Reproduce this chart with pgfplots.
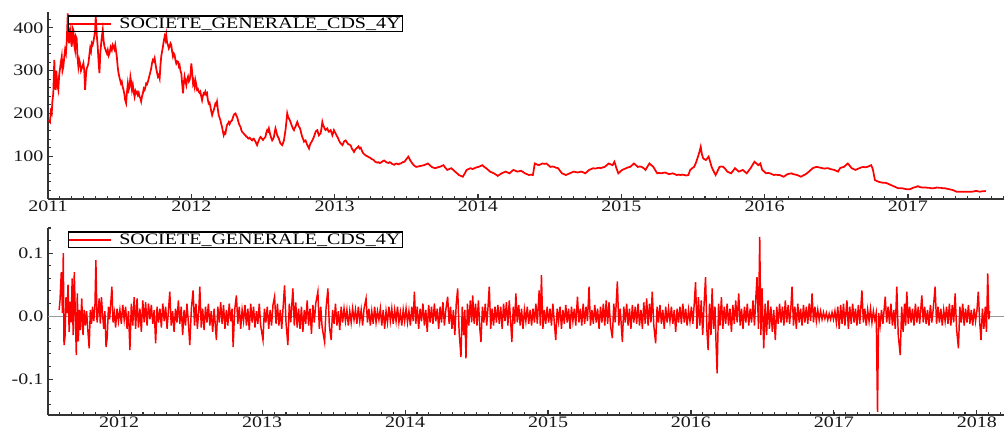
\documentclass[border=0pt]{standalone}
\usepackage{pgfplots}
\pgfplotsset{compat=1.18}
\usepackage{pgfplotstable}
\usepackage{fontspec}
\setmainfont{Liberation Serif}[FakeStretch=1.25]

% x = years since 2011
\pgfplotstableread{
x y
0.005 185
0.014 180
0.020 205
0.026 200
0.031 230
0.037 247
0.044 325
0.049 270
0.054 255
0.058 300
0.061 286
0.066 265
0.072 255
0.078 290
0.084 305
0.090 320
0.096 333
0.101 300
0.107 309
0.113 330
0.119 348
0.125 340
0.131 371
0.138 434
0.142 380
0.147 364
0.151 390
0.154 395
0.160 370
0.166 356
0.171 400
0.177 395
0.183 360
0.189 348
0.194 380
0.200 375
0.206 330
0.212 309
0.218 325
0.224 317
0.230 300
0.235 305
0.241 310
0.247 317
0.253 300
0.259 255
0.265 290
0.270 305
0.276 310
0.282 317
0.288 335
0.294 352
0.300 345
0.305 364
0.311 360
0.317 368
0.323 380
0.329 395
0.333 426
0.336 410
0.341 380
0.347 356
0.353 320
0.359 294
0.365 340
0.371 364
0.376 380
0.382 395
0.388 370
0.394 356
0.400 350
0.406 344
0.411 340
0.417 348
0.423 335
0.429 340
0.437 355
0.445 348
0.451 360
0.457 356
0.463 350
0.469 360
0.475 345
0.480 333
0.486 310
0.492 294
0.498 285
0.503 278
0.509 270
0.515 274
0.521 262
0.527 255
0.533 245
0.538 232
0.545 224
0.551 250
0.557 270
0.563 255
0.569 262
0.575 285
0.580 274
0.586 255
0.592 266
0.598 250
0.604 239
0.610 252
0.615 247
0.621 250
0.627 243
0.633 248
0.639 239
0.645 235
0.650 228
0.656 240
0.662 247
0.668 258
0.674 255
0.680 262
0.685 270
0.691 268
0.697 274
0.703 282
0.709 290
0.715 298
0.720 305
0.726 318
0.732 325
0.738 322
0.744 329
0.750 315
0.755 305
0.761 295
0.767 286
0.773 290
0.779 282
0.784 310
0.790 333
0.796 345
0.802 356
0.808 370
0.814 380
0.820 372
0.825 384
0.831 365
0.837 360
0.843 352
0.848 356
0.854 364
0.860 360
0.866 345
0.872 333
0.878 340
0.883 337
0.889 325
0.895 317
0.901 322
0.907 321
0.913 310
0.918 313
0.924 300
0.930 294
0.936 270
0.942 247
0.947 270
0.953 286
0.959 275
0.965 266
0.971 280
0.977 286
0.983 275
0.988 278
0.994 290
1.000 317
1.006 295
1.012 270
1.016 275
1.023 262
1.028 278
1.034 268
1.040 255
1.046 257
1.051 251
1.057 248
1.063 251
1.069 240
1.075 231
1.080 240
1.086 247
1.092 245
1.098 251
1.104 244
1.110 247
1.115 232
1.121 223
1.127 225
1.133 216
1.139 205
1.145 196
1.150 202
1.156 207
1.162 215
1.168 223
1.174 220
1.179 227
1.185 210
1.191 196
1.197 190
1.203 184
1.208 176
1.214 169
1.220 158
1.226 149
1.232 155
1.238 153
1.244 165
1.249 173
1.255 176
1.261 180
1.267 175
1.273 180
1.278 182
1.284 184
1.290 190
1.296 196
1.302 199
1.308 200
1.313 195
1.319 192
1.325 185
1.331 177
1.337 172
1.343 169
1.348 162
1.354 157
1.360 155
1.366 153
1.372 150
1.378 149
1.383 146
1.389 145
1.395 142
1.401 141
1.407 143
1.413 141
1.418 139
1.424 137
1.430 140
1.436 141
1.442 137
1.448 134
1.453 130
1.459 126
1.465 132
1.471 137
1.477 142
1.483 145
1.488 143
1.494 141
1.500 138
1.506 141
1.512 143
1.517 145
1.523 155
1.529 161
1.535 158
1.541 165
1.546 157
1.552 149
1.558 142
1.564 137
1.570 140
1.576 145
1.581 155
1.587 165
1.593 158
1.599 149
1.605 145
1.611 141
1.616 135
1.622 130
1.628 128
1.634 126
1.640 131
1.646 137
1.651 148
1.657 161
1.663 180
1.669 200
1.675 192
1.681 188
1.686 185
1.692 180
1.698 174
1.704 169
1.710 164
1.716 161
1.721 166
1.727 169
1.733 175
1.739 180
1.745 174
1.751 169
1.757 166
1.762 161
1.768 152
1.774 145
1.780 140
1.786 134
1.791 136
1.797 137
1.803 131
1.809 126
1.815 122
1.821 118
1.826 125
1.832 130
1.838 133
1.844 137
1.850 141
1.855 145
1.861 151
1.867 157
1.873 160
1.879 161
1.884 155
1.890 149
1.896 152
1.902 153
1.908 165
1.914 180
1.920 172
1.925 169
1.931 163
1.937 161
1.943 164
1.949 165
1.954 160
1.960 157
1.966 159
1.972 161
1.978 155
1.984 149
1.990 155
1.995 161
2.001 157
2.007 153
2.013 149
2.019 145
2.025 141
2.030 137
2.036 133
2.042 130
2.048 128
2.054 126
2.060 130
2.065 134
2.071 136
2.077 137
2.085 133
2.095 128
2.104 127
2.112 125
2.120 118
2.128 114
2.135 110
2.143 115
2.150 118
2.158 120
2.166 123
2.174 118
2.182 120
2.190 113
2.197 108
2.205 105
2.213 103
2.220 101
2.228 100
2.236 98
2.244 97
2.252 95
2.260 93
2.268 92
2.275 90
2.283 87
2.290 86
2.298 85
2.306 86
2.314 84
2.322 85
2.330 87
2.338 89
2.345 90
2.353 88
2.361 86
2.368 85
2.376 84
2.384 86
2.392 85
2.400 82
2.408 81
2.415 80
2.423 82
2.431 83
2.438 82
2.446 81
2.454 83
2.462 83
2.474 86
2.487 87
2.500 93
2.514 99
2.528 90
2.542 83
2.555 78
2.569 75
2.582 76
2.596 77
2.610 78
2.623 79
2.637 81
2.650 83
2.664 79
2.677 75
2.690 73
2.704 72
2.718 74
2.731 75
2.745 77
2.759 79
2.772 73
2.786 68
2.800 70
2.813 72
2.827 68
2.840 64
2.854 60
2.867 56
2.881 54
2.894 52
2.908 60
2.921 68
2.935 70
2.948 72
2.962 70
2.976 72
2.990 74
3.003 75
3.017 77
3.030 79
3.044 75
3.057 72
3.071 68
3.084 64
3.098 62
3.111 60
3.125 57
3.138 54
3.152 57
3.165 60
3.179 62
3.193 64
3.206 62
3.220 60
3.233 64
3.247 68
3.261 66
3.274 64
3.288 65
3.301 66
3.315 63
3.328 60
3.342 58
3.355 56
3.369 57
3.383 56
3.390 70
3.396 83
3.410 81
3.423 79
3.437 81
3.450 83
3.464 82
3.477 83
3.491 79
3.505 75
3.518 76
3.532 75
3.545 73
3.559 72
3.572 66
3.586 60
3.600 58
3.613 56
3.627 58
3.640 60
3.654 62
3.667 64
3.681 63
3.695 62
3.708 63
3.722 64
3.735 62
3.749 60
3.762 64
3.776 68
3.790 70
3.803 72
3.817 71
3.830 72
3.844 73
3.857 72
3.871 74
3.884 75
3.898 79
3.912 83
3.925 81
3.939 79
3.952 87
3.966 72
3.979 60
3.993 64
4.006 68
4.020 70
4.034 72
4.047 74
4.061 75
4.075 79
4.088 83
4.102 79
4.115 75
4.129 76
4.142 75
4.156 72
4.169 68
4.183 76
4.196 83
4.210 79
4.224 75
4.237 67
4.251 60
4.265 61
4.278 60
4.292 61
4.305 62
4.319 60
4.332 58
4.346 59
4.359 60
4.373 58
4.386 56
4.400 57
4.413 56
4.427 57
4.440 56
4.454 55
4.468 56
4.474 62
4.481 68
4.495 72
4.508 75
4.521 85
4.535 99
4.545 110
4.554 122
4.562 105
4.571 95
4.580 93
4.590 91
4.600 95
4.609 99
4.620 87
4.630 75
4.644 65
4.658 56
4.671 65
4.685 75
4.698 76
4.712 75
4.726 70
4.739 64
4.752 62
4.766 60
4.780 66
4.793 72
4.806 68
4.820 64
4.834 66
4.847 68
4.861 64
4.875 60
4.888 66
4.902 72
4.916 80
4.929 87
4.943 83
4.956 79
4.970 83
4.983 68
4.997 64
5.010 60
5.024 61
5.037 60
5.051 58
5.065 56
5.078 57
5.092 56
5.105 56
5.119 54
5.132 52
5.146 55
5.159 58
5.173 59
5.187 60
5.200 58
5.214 57
5.227 56
5.241 54
5.254 52
5.268 55
5.281 57
5.295 60
5.309 64
5.322 68
5.336 72
5.350 74
5.363 75
5.377 74
5.390 73
5.404 72
5.417 71
5.431 72
5.444 72
5.458 70
5.471 69
5.485 68
5.498 66
5.512 64
5.519 68
5.526 72
5.540 74
5.553 75
5.566 79
5.580 83
5.593 78
5.607 72
5.620 70
5.634 68
5.647 70
5.661 72
5.675 74
5.689 75
5.702 74
5.716 75
5.730 77
5.743 79
5.750 74
5.756 68
5.763 55
5.770 44
5.783 42
5.797 40
5.810 39
5.824 38
5.838 38
5.851 37
5.865 35
5.878 33
5.892 31
5.906 29
5.919 27
5.933 25
5.946 25
5.960 25
5.974 24
5.987 23
6.001 23
6.014 23
6.028 25
6.041 27
6.055 28
6.069 30
6.082 28
6.096 27
6.110 27
6.123 27
6.137 26
6.150 26
6.164 25
6.177 25
6.191 26
6.204 27
6.218 26
6.231 26
6.245 25
6.258 25
6.272 24
6.285 23
6.299 22
6.312 21
6.326 19
6.339 17
6.366 17
6.394 17
6.421 17
6.448 17
6.462 18
6.475 19
6.489 18
6.502 17
6.516 18
6.529 18
6.543 19
}\topdata

\pgfplotstableread{
x y
0.580 0.010
0.586 0.025
0.595 0.070
0.603 0.005
0.609 0.100
0.614 -0.046
0.621 -0.033
0.628 0.030
0.636 0.005
0.642 0.050
0.650 -0.025
0.657 0.023
0.664 -0.010
0.671 0.060
0.678 -0.030
0.686 0.070
0.700 -0.062
0.707 0.036
0.714 -0.040
0.722 0.010
0.729 -0.022
0.738 0.028
0.747 -0.030
0.755 0.010
0.763 -0.015
0.772 0.008
0.780 -0.020
0.790 -0.051
0.798 0.010
0.806 -0.012
0.814 0.015
0.822 -0.008
0.830 0.012
0.837 0.089
0.845 -0.010
0.852 0.005
0.860 0.028
0.868 -0.012
0.876 0.030
0.884 0.002
0.892 -0.020
0.900 0.008
0.908 -0.049
0.916 -0.035
0.925 0.015
0.933 -0.005
0.941 0.020
0.949 0.047
0.957 -0.010
0.966 0.005
0.975 -0.018
0.985 0.012
0.995 -0.008
1.005 0.010
1.015 -0.012
1.025 0.018
1.035 -0.006
1.045 0.015
1.055 -0.020
1.065 0.008
1.075 -0.054
1.085 0.020
1.095 -0.015
1.105 0.030
1.115 -0.020
1.125 0.028
1.135 -0.018
1.145 0.012
1.155 -0.025
1.165 0.025
1.175 -0.010
1.185 0.022
1.195 -0.015
1.205 0.020
1.215 -0.005
1.225 0.018
1.235 -0.012
1.245 0.010
1.255 -0.043
1.265 0.015
1.275 -0.010
1.285 0.012
1.295 -0.018
1.305 0.020
1.315 -0.008
1.325 0.015
1.335 -0.020
1.345 0.010
1.354 0.039
1.364 -0.015
1.374 0.008
1.384 -0.025
1.394 0.012
1.404 -0.010
1.414 0.025
1.424 -0.012
1.434 0.015
1.444 -0.030
1.454 0.010
1.464 -0.015
1.474 0.020
1.484 -0.010
1.494 -0.046
1.505 0.012
1.517 0.041
1.527 -0.015
1.537 0.020
1.547 -0.020
1.557 0.010
1.564 0.047
1.574 -0.018
1.584 0.012
1.594 -0.022
1.604 0.015
1.614 -0.010
1.624 0.020
1.634 -0.015
1.644 0.008
1.654 -0.025
1.664 0.012
1.680 -0.038
1.690 0.015
1.700 -0.010
1.710 0.022
1.720 -0.012
1.730 0.018
1.740 -0.020
1.750 0.010
1.760 -0.015
1.770 0.020
1.780 -0.008
1.790 0.012
1.797 -0.049
1.808 0.010
1.820 0.033
1.830 -0.012
1.840 0.015
1.850 -0.020
1.860 0.010
1.870 -0.008
1.880 0.018
1.890 -0.015
1.900 0.012
1.910 -0.022
1.920 0.020
1.930 -0.010
1.940 0.015
1.950 -0.018
1.960 0.008
1.970 -0.012
1.980 0.020
1.990 -0.015
2.006 -0.038
2.016 0.012
2.026 -0.010
2.036 0.015
2.046 -0.020
2.056 0.010
2.066 -0.015
2.076 0.018
2.087 0.031
2.097 -0.012
2.107 0.020
2.117 -0.015
2.127 0.010
2.137 -0.020
2.147 0.015
2.157 0.049
2.167 -0.010
2.180 -0.046
2.190 0.020
2.200 -0.010
2.215 0.044
2.225 -0.015
2.235 0.022
2.245 -0.018
2.255 0.012
2.265 -0.020
2.275 0.015
2.285 -0.025
2.295 0.010
2.305 -0.012
2.315 0.025
2.325 -0.015
2.335 0.012
2.345 -0.028
2.355 0.018
2.365 -0.010
2.375 0.020
2.390 0.039
2.400 -0.020
2.410 0.015
2.420 -0.018
2.437 -0.041
2.447 0.012
2.460 0.044
2.470 -0.015
2.483 -0.038
2.493 0.010
2.503 -0.012
2.513 0.020
2.523 -0.015
2.533 0.008
2.543 -0.022
2.553 0.015
2.563 -0.010
2.573 0.012
2.583 -0.008
2.593 0.010
2.603 -0.015
2.613 0.008
2.623 -0.010
2.633 0.012
2.643 -0.006
2.653 0.010
2.663 -0.012
2.673 0.015
2.683 -0.008
2.693 0.010
2.703 -0.015
2.713 0.012
2.727 0.028
2.737 -0.010
2.747 0.012
2.757 -0.015
2.767 0.008
2.777 -0.012
2.787 0.015
2.797 -0.010
2.807 0.008
2.817 -0.006
2.827 0.012
2.837 -0.015
2.847 0.010
2.857 -0.020
2.867 0.008
2.877 -0.010
2.887 0.015
2.897 -0.008
2.907 0.012
2.917 -0.012
2.927 0.010
2.937 -0.008
2.947 0.015
2.957 -0.010
2.967 0.006
2.977 -0.015
2.987 0.010
2.997 -0.008
3.007 0.012
3.017 -0.010
3.027 0.008
3.037 -0.015
3.047 0.015
3.057 -0.008
3.065 0.039
3.075 -0.012
3.085 0.015
3.095 -0.020
3.105 0.012
3.115 -0.008
3.125 0.020
3.135 -0.015
3.145 0.010
3.155 -0.025
3.165 0.018
3.175 -0.010
3.185 0.015
3.195 -0.012
3.205 0.020
3.215 -0.008
3.225 0.012
3.235 -0.020
3.245 0.015
3.255 -0.010
3.265 0.022
3.275 -0.015
3.285 0.010
3.298 0.031
3.308 -0.012
3.318 0.015
3.328 -0.020
3.338 0.010
3.348 -0.030
3.358 0.020
3.368 0.044
3.378 -0.025
3.391 -0.065
3.400 0.015
3.410 -0.030
3.418 0.010
3.426 -0.067
3.436 0.020
3.446 -0.015
3.456 0.025
3.466 -0.010
3.473 0.033
3.483 -0.012
3.493 0.020
3.503 -0.015
3.513 0.025
3.523 -0.020
3.531 -0.041
3.541 0.015
3.551 -0.010
3.561 0.020
3.571 -0.015
3.579 0.010
3.589 0.047
3.599 -0.020
3.609 0.012
3.619 -0.015
3.629 0.015
3.639 -0.010
3.649 0.018
3.659 -0.012
3.669 0.015
3.679 -0.020
3.689 0.020
3.699 -0.008
3.709 0.022
3.719 -0.015
3.729 0.025
3.739 -0.010
3.747 -0.041
3.757 0.015
3.767 -0.012
3.775 0.036
3.785 -0.010
3.795 0.018
3.805 -0.015
3.815 0.012
3.825 -0.020
3.835 0.010
3.845 -0.008
3.855 0.015
3.865 -0.012
3.875 0.010
3.885 -0.015
3.895 0.012
3.905 -0.010
3.915 0.020
3.925 -0.012
3.938 0.041
3.946 -0.015
3.954 0.065
3.964 -0.020
3.974 0.010
3.984 -0.012
3.994 0.015
4.004 -0.010
4.014 0.012
4.024 -0.015
4.034 0.020
4.044 -0.010
4.054 -0.038
4.064 0.012
4.074 -0.008
4.084 0.015
4.094 -0.020
4.104 0.010
4.114 -0.012
4.124 0.018
4.134 -0.010
4.144 0.012
4.154 -0.020
4.164 0.015
4.174 -0.008
4.184 0.012
4.194 -0.015
4.206 0.031
4.216 -0.010
4.226 0.012
4.236 -0.015
4.246 0.020
4.256 -0.012
4.266 0.015
4.276 -0.008
4.287 0.047
4.297 -0.015
4.307 0.010
4.317 -0.012
4.327 0.018
4.337 -0.010
4.347 0.012
4.357 -0.020
4.367 0.015
4.377 -0.010
4.387 0.020
4.397 -0.015
4.407 0.025
4.417 -0.012
4.427 0.022
4.437 -0.015
4.450 -0.035
4.460 0.020
4.470 -0.010
4.485 0.055
4.495 -0.015
4.505 0.012
4.520 -0.041
4.530 0.015
4.540 -0.010
4.550 0.020
4.560 -0.015
4.570 0.012
4.580 -0.020
4.590 0.018
4.600 -0.010
4.610 0.015
4.620 -0.012
4.630 0.020
4.640 -0.015
4.650 0.010
4.660 -0.020
4.670 0.022
4.680 -0.012
4.690 0.028
4.700 -0.015
4.710 0.020
4.720 -0.010
4.729 0.039
4.740 -0.015
4.753 -0.043
4.763 0.015
4.773 -0.010
4.783 0.018
4.793 -0.012
4.803 0.010
4.813 -0.020
4.823 0.015
4.833 -0.010
4.843 0.012
4.853 -0.008
4.863 0.015
4.873 -0.012
4.883 0.010
4.893 -0.025
4.903 0.012
4.913 -0.010
4.923 0.015
4.933 -0.012
4.943 0.020
4.953 -0.010
4.963 0.012
4.973 -0.015
4.983 0.010
4.993 -0.008
5.003 0.015
5.013 -0.012
5.023 0.020
5.032 0.054
5.042 -0.020
5.052 0.030
5.062 -0.015
5.072 0.025
5.082 -0.030
5.092 0.020
5.102 0.062
5.112 -0.025
5.120 -0.054
5.130 0.020
5.140 -0.030
5.148 0.044
5.158 -0.020
5.168 0.015
5.175 -0.040
5.183 -0.091
5.193 0.020
5.203 -0.015
5.213 0.030
5.223 -0.020
5.233 0.015
5.243 -0.012
5.253 0.020
5.263 -0.015
5.273 0.012
5.283 -0.025
5.293 0.018
5.303 -0.012
5.313 0.025
5.323 -0.010
5.334 0.036
5.344 -0.015
5.354 0.012
5.364 -0.020
5.374 0.015
5.384 -0.010
5.394 0.020
5.404 -0.015
5.414 0.012
5.424 -0.010
5.434 0.025
5.444 -0.015
5.454 0.030
5.462 0.062
5.472 -0.020
5.481 0.126
5.489 -0.030
5.497 0.044
5.509 -0.051
5.519 0.020
5.529 -0.030
5.539 0.025
5.549 -0.020
5.559 0.015
5.569 -0.025
5.579 0.010
5.590 -0.038
5.600 0.015
5.610 -0.012
5.620 0.020
5.630 -0.010
5.640 0.015
5.650 -0.015
5.660 0.025
5.670 -0.010
5.680 0.018
5.690 -0.012
5.698 0.010
5.707 0.047
5.717 -0.015
5.727 0.015
5.737 -0.020
5.747 0.020
5.757 -0.010
5.767 0.012
5.777 -0.015
5.787 0.018
5.797 -0.010
5.807 0.015
5.817 -0.012
5.827 0.020
5.837 -0.008
5.847 0.036
5.857 -0.010
5.867 0.015
5.877 -0.008
5.887 0.010
5.897 -0.006
5.907 0.008
5.917 -0.005
5.927 0.006
5.937 -0.004
5.947 0.005
5.957 -0.006
5.967 0.004
5.977 -0.005
5.987 0.006
5.997 -0.005
6.007 0.008
6.017 -0.010
6.027 0.015
6.037 -0.020
6.047 0.018
6.057 -0.012
6.067 0.020
6.077 -0.015
6.091 0.025
6.101 -0.020
6.111 0.015
6.121 -0.012
6.131 0.020
6.141 -0.010
6.151 0.012
6.161 -0.015
6.171 0.018
6.181 -0.012
6.196 0.041
6.206 -0.010
6.216 0.012
6.226 -0.015
6.236 0.010
6.246 -0.008
6.256 0.012
6.266 -0.010
6.276 0.008
6.286 -0.006
6.296 0.005
6.305 -0.152
6.313 0.005
6.323 -0.015
6.333 0.010
6.343 -0.012
6.359 0.031
6.369 -0.010
6.379 0.015
6.389 -0.012
6.399 0.020
6.409 -0.015
6.419 0.010
6.429 -0.020
6.440 0.047
6.450 -0.030
6.464 -0.062
6.474 0.015
6.484 -0.025
6.494 0.020
6.502 -0.015
6.510 0.039
6.520 -0.012
6.530 0.015
6.540 -0.010
6.550 0.012
6.560 -0.015
6.570 0.020
6.580 -0.010
6.590 0.015
6.600 -0.012
6.615 0.033
6.625 -0.010
6.635 0.015
6.645 -0.012
6.655 0.010
6.665 -0.015
6.675 0.018
6.685 -0.010
6.695 0.012
6.708 0.047
6.718 -0.012
6.728 0.015
6.738 -0.010
6.748 0.012
6.758 -0.015
6.768 0.010
6.778 -0.008
6.788 0.015
6.798 -0.012
6.808 0.020
6.818 -0.015
6.828 0.018
6.838 -0.010
6.848 0.036
6.858 -0.020
6.871 -0.051
6.881 0.015
6.891 -0.010
6.901 0.020
6.911 -0.015
6.921 0.012
6.931 -0.010
6.941 0.018
6.951 -0.012
6.961 0.010
6.971 -0.015
6.981 0.012
6.991 -0.008
7.001 0.010
7.010 0.039
7.020 -0.010
7.029 -0.038
7.039 0.012
7.049 -0.020
7.059 0.015
7.067 -0.025
7.076 0.068
7.084 -0.005
7.090 0.008
}\botdata

\pgfplotsset{
  cdsaxis/.style={
    scale only axis,
    width=717pt, height=140.25pt,
    axis x line*=bottom, axis y line*=left,
    tick align=inside,
    major tick length=4pt, minor tick length=2.2pt,
    axis line style={black!80, line width=0.9pt},
    every tick/.style={black!80, line width=0.8pt},
    ticklabel style={font=\fontsize{12}{12}\selectfont, text=black!90},
    xticklabel style={inner sep=1.5pt},
    clip=false,
    legend cell align=left,
    legend style={draw=black, line width=0.9pt, fill=none,
      inner sep=0pt, row sep=0pt, column sep=0pt,
      font=\fontsize{12}{12}\selectfont,
      nodes={inner xsep=1.5pt, inner ysep=1.2pt},
      at={(0.0209,0.982)}, anchor=north west},
    legend image code/.code={\draw[##1, line width=1pt] (-1.5pt,0pt) -- (30pt,0pt); \path (34pt,0pt);},
  }
}

\begin{document}
\begin{tikzpicture}
\path[use as bounding box] (0,0) rectangle (755.25pt,324.75pt);

\begin{axis}[cdsaxis,
  at={(36pt,175.5pt)}, anchor=south west,
  xmin=0, xmax=6.67, ymin=0, ymax=437,
  xtick={0,1,2,3,4,5,6},
  xticklabels={2011,2012,2013,2014,2015,2016,2017},
  minor xtick={0.08333,0.16667,...,6.67},
  ytick={100,200,300,400},
  yticklabels={100,200,300,400},
  minor ytick={20,40,...,420},
]
\addplot[red, line width=1.3pt] table[x=x,y=y] {\topdata};
\addlegendentry{SOCIETE\_GENERALE\_CDS\_4Y}
\end{axis}

\begin{axis}[cdsaxis,
  at={(36pt,13.5pt)}, anchor=south west,
  xmin=0.502, xmax=7.19, ymin=-0.157, ymax=0.14,
  xtick={1,2,3,4,5,6,7},
  xticklabels={2012,2013,2014,2015,2016,2017,2018},
  minor xtick={0.58333,0.66667,...,7.19},
  ytick={-0.1,0,0.1},
  yticklabels={-0.1,0.0,0.1},
  minor ytick={-0.14,-0.12,...,0.13},
]
\addplot[gray!80, line width=0.6pt, forget plot] coordinates {(0.502,0) (7.19,0)};
\addplot[red, line width=1.1pt] table[x=x,y=y] {\botdata};
\addlegendentry{SOCIETE\_GENERALE\_CDS\_4Y}
\end{axis}
\end{tikzpicture}
\end{document}
